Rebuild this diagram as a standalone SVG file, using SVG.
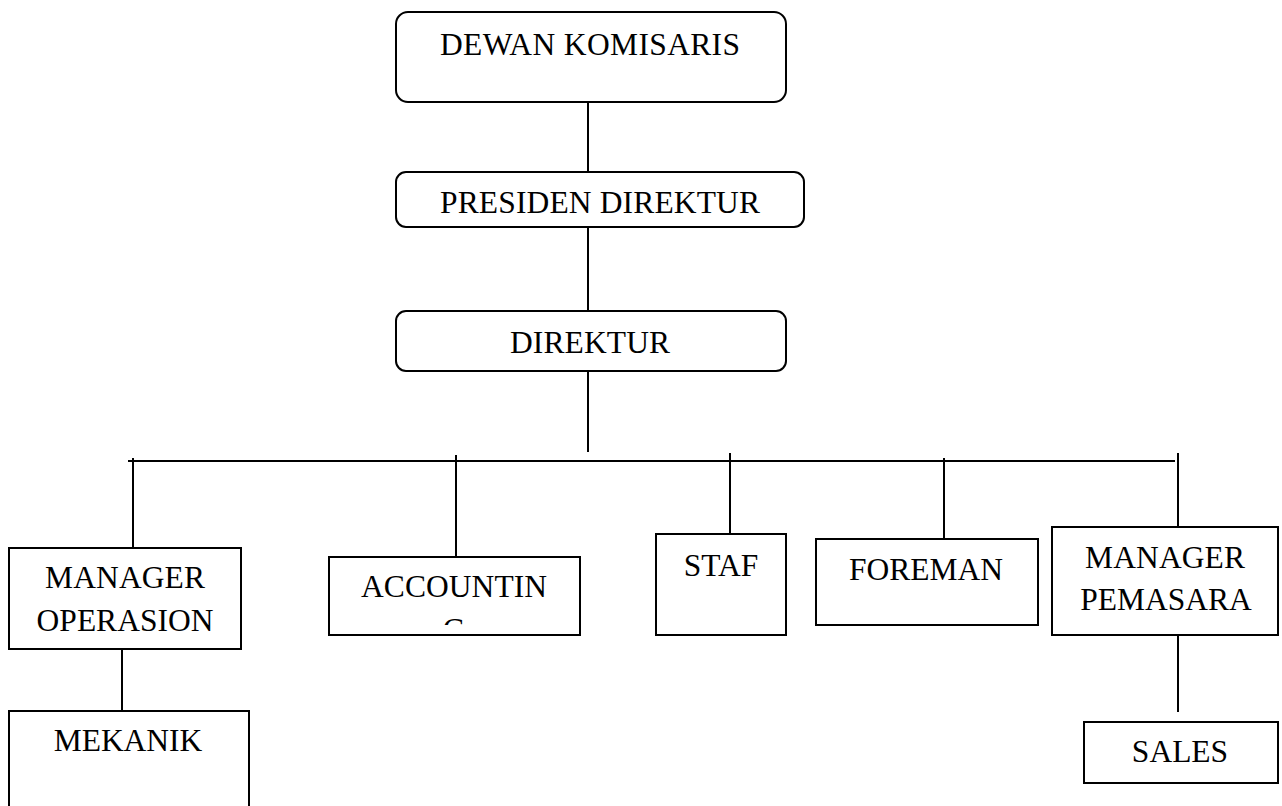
<svg xmlns="http://www.w3.org/2000/svg" width="1282" height="806" viewBox="0 0 1282 806">
<style>
.box{fill:#fff;stroke:#000;stroke-width:2}
.t{font-family:'Liberation Serif','Times New Roman','DejaVu Serif',serif;font-size:31.5px;fill:#000;text-anchor:middle}
.c{stroke:#000;stroke-width:2;fill:none}
</style>
<defs>
<clipPath id="accClip"><rect x="329" y="557" width="251" height="68"/></clipPath>
</defs>
<rect width="1282" height="806" fill="#fff"/>
<g id="connectors">
<line class="c" x1="588" y1="102" x2="588" y2="172"/>
<line class="c" x1="588" y1="227" x2="588" y2="311"/>
<line class="c" x1="588" y1="371" x2="588" y2="452"/>
<line class="c" x1="128" y1="461" x2="1175" y2="461"/>
<line class="c" x1="133" y1="458" x2="133" y2="548"/>
<line class="c" x1="456" y1="455" x2="456" y2="557"/>
<line class="c" x1="730" y1="453" x2="730" y2="534"/>
<line class="c" x1="944" y1="458" x2="944" y2="539"/>
<line class="c" x1="1178" y1="453" x2="1178" y2="527"/>
<line class="c" x1="122" y1="649" x2="122" y2="711"/>
<line class="c" x1="1178" y1="635" x2="1178" y2="712"/>
</g>
<g id="dewan-komisaris">
<rect class="box" x="396" y="12" width="390" height="90" rx="12"/>
<text class="t" x="590" y="55" textLength="300">DEWAN KOMISARIS</text>
</g>
<g id="presiden-direktur">
<rect class="box" x="396" y="172" width="408" height="55" rx="10"/>
<text class="t" x="600" y="213" textLength="320">PRESIDEN DIREKTUR</text>
</g>
<g id="direktur">
<rect class="box" x="396" y="311" width="390" height="60" rx="10"/>
<text class="t" x="590" y="353" textLength="160">DIREKTUR</text>
</g>
<g id="manager-operasion">
<rect class="box" x="9" y="548" width="232" height="101"/>
<text class="t" x="125" y="588" textLength="160">MANAGER</text>
<text class="t" x="125" y="631">OPERASION</text>
</g>
<g id="accounting">
<rect class="box" x="329" y="557" width="251" height="78"/>
<g clip-path="url(#accClip)">
<text class="t" x="454" y="597" textLength="186">ACCOUNTIN</text>
<text class="t" x="454" y="640">G</text>
</g>
</g>
<g id="staf">
<rect class="box" x="656" y="534" width="130" height="101"/>
<text class="t" x="721" y="576">STAF</text>
</g>
<g id="foreman">
<rect class="box" x="816" y="539" width="222" height="86"/>
<text class="t" x="926" y="580">FOREMAN</text>
</g>
<g id="manager-pemasara">
<rect class="box" x="1052" y="527" width="226" height="108"/>
<text class="t" x="1165" y="568" textLength="160">MANAGER</text>
<text class="t" x="1166" y="610">PEMASARA</text>
</g>
<g id="sales">
<rect class="box" x="1084" y="722" width="194" height="61"/>
<text class="t" x="1180" y="762">SALES</text>
</g>
<g id="mekanik">
<rect class="box" x="9" y="711" width="240" height="110"/>
<text class="t" x="128" y="751">MEKANIK</text>
</g>
</svg>
